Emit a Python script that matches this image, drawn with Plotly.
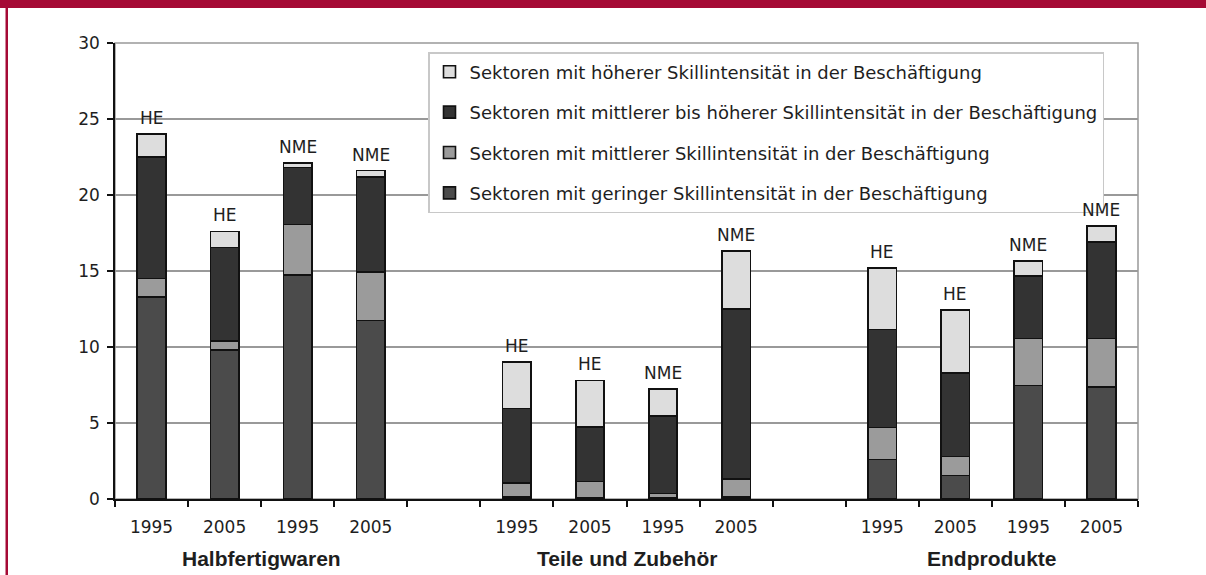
import plotly.graph_objects as go

# ---- data ----
groups = ["Halbfertigwaren", "Teile und Zubehör", "Endprodukte"]
years = ["1995", "2005", "1995", "2005"]
origin_labels = ["HE", "HE", "NME", "NME"]

series_names = [
    "Sektoren mit geringer Skillintensität in der Beschäftigung",
    "Sektoren mit mittlerer Skillintensität in der Beschäftigung",
    "Sektoren mit mittlerer bis höherer Skillintensität in der Beschäftigung",
    "Sektoren mit höherer Skillintensität in der Beschäftigung",
]
# values per group: [1995 HE, 2005 HE, 1995 NME, 2005 NME]
low = {
    "Halbfertigwaren": [13.3, 9.8, 14.75, 11.75],
    "Teile und Zubehör": [0.15, 0.05, 0.1, 0.15],
    "Endprodukte": [2.6, 1.55, 7.47, 7.37],
}
mid = {
    "Halbfertigwaren": [1.2, 0.6, 3.3, 3.2],
    "Teile und Zubehör": [0.9, 1.1, 0.25, 1.15],
    "Endprodukte": [2.1, 1.25, 3.1, 3.2],
}
midhigh = {
    "Halbfertigwaren": [8.0, 6.15, 3.75, 6.25],
    "Teile und Zubehör": [4.9, 3.6, 5.1, 11.2],
    "Endprodukte": [6.45, 5.5, 4.1, 6.35],
}
high = {
    "Halbfertigwaren": [1.5, 1.05, 0.3, 0.4],
    "Teile und Zubehör": [3.05, 3.05, 1.8, 3.8],
    "Endprodukte": [4.05, 4.15, 1.0, 1.05],
}
y_ticks = [0, 5, 10, 15, 20, 25, 30]

# ---- layout helpers (style only) ----
W, H = 1206, 575
L, R, T, B = 115, 68, 43, 76
PW, PH = W - L - R, H - T - B
colors = ["#4b4b4b", "#9b9b9b", "#333333", "#dddddd"]
FONT = "DejaVu Sans, Liberation Sans, Arial, sans-serif"
BOLDFONT = "Liberation Sans, Arial, sans-serif"
RED = "#a50a35"
TXT = "#1e1e1e"

def px_x(px):
    return (px - L) / PW

def px_y(py):
    return (H - B - py) / PH

# slot positions: 4 bars, gap, 4 bars, gap, 4 bars
xpos, xyears, xorig, gidx = [], [], [], []
slot = 0
for gi, g in enumerate(groups):
    for k in range(4):
        xpos.append(slot)
        xyears.append(years[k])
        xorig.append(origin_labels[k])
        gidx.append(gi)
        slot += 1
    slot += 1
n_slots = slot - 1  # 14

def flat(d):
    out = []
    for g in groups:
        out += d[g]
    return out

series_vals = [flat(low), flat(mid), flat(midhigh), flat(high)]

fig = go.Figure()
for i, (name, vals) in enumerate(zip(series_names, series_vals)):
    fig.add_trace(go.Bar(
        x=xpos, y=vals, name=name, legendgroup=f"g{i}", legendrank=100 - i,
        marker=dict(color=colors[i], line=dict(color="#111111", width=1.6)),
        width=0.39,
    ))

totals = [sum(v) for v in zip(*series_vals)]
for x, t, lab in zip(xpos, totals, xorig):
    fig.add_annotation(x=x, y=t, text=lab, showarrow=False, yanchor="bottom",
                       yshift=4, font=dict(size=17, color=TXT, family=FONT))

# group labels
for gi, g in enumerate(groups):
    xs = [x for x, k in zip(xpos, gidx) if k == gi]
    fig.add_annotation(x=sum(xs) / len(xs), xref="x", y=px_y(558), yref="paper",
                       yanchor="middle", text=f"<b>{g}</b>", showarrow=False,
                       font=dict(size=21, color=TXT, family=BOLDFONT))

# plot frame (grey top/right) and red page decoration
fig.add_shape(type="rect", xref="paper", yref="paper", x0=0, x1=1, y0=0, y1=1,
              line=dict(color="#999999", width=1.5), layer="below")
fig.add_shape(type="rect", xref="paper", yref="paper", x0=px_x(0), x1=px_x(W),
              y0=px_y(8), y1=px_y(0), fillcolor=RED, line=dict(width=0))
fig.add_shape(type="rect", xref="paper", yref="paper", x0=px_x(5.5), x1=px_x(8),
              y0=px_y(H), y1=px_y(8), fillcolor=RED, line=dict(width=0))

fig.update_layout(
    width=W, height=H,
    margin=dict(l=L, r=R, t=T, b=B),
    paper_bgcolor="white", plot_bgcolor="white",
    barmode="stack",
    font=dict(family=FONT, size=17, color=TXT),
    showlegend=True,
    hovermode=False,
    legend=dict(
        x=px_x(428), y=px_y(52), xanchor="left", yanchor="top",
        traceorder="grouped", tracegroupgap=14,
        bgcolor="white", bordercolor="#c8c8c8", borderwidth=1.5,
        font=dict(size=18, color=TXT, family=FONT),
    ),
    xaxis=dict(
        range=[-0.5, n_slots - 0.5],
        tickmode="array", tickvals=xpos, ticktext=xyears, ticks="",
        ticklabelstandoff=12,
        showgrid=False, zeroline=False,
        showline=True, linecolor="#111111", linewidth=1.5,
        tickfont=dict(size=17, color=TXT, family=FONT),
        minor=dict(tickmode="array", tickvals=[k - 0.5 for k in range(n_slots + 1)],
                   ticks="outside", ticklen=6, tickcolor="#111111", tickwidth=1.5,
                   showgrid=False),
        fixedrange=True,
    ),
    yaxis=dict(
        range=[0, 30], tickmode="array", tickvals=y_ticks,
        ticks="outside", ticklen=6, tickcolor="#111111", tickwidth=1.5,
        ticklabelstandoff=4,
        showgrid=True, gridcolor="#999999", gridwidth=1.5,
        zeroline=False, showline=True, linecolor="#111111", linewidth=1.5,
        tickfont=dict(size=17, color=TXT, family=FONT),
        fixedrange=True,
    ),
)

fig.write_html(
    "out.html",
    config={"displayModeBar": False},
    post_script="document.body.style.margin='0';document.body.style.padding='0';",
)
